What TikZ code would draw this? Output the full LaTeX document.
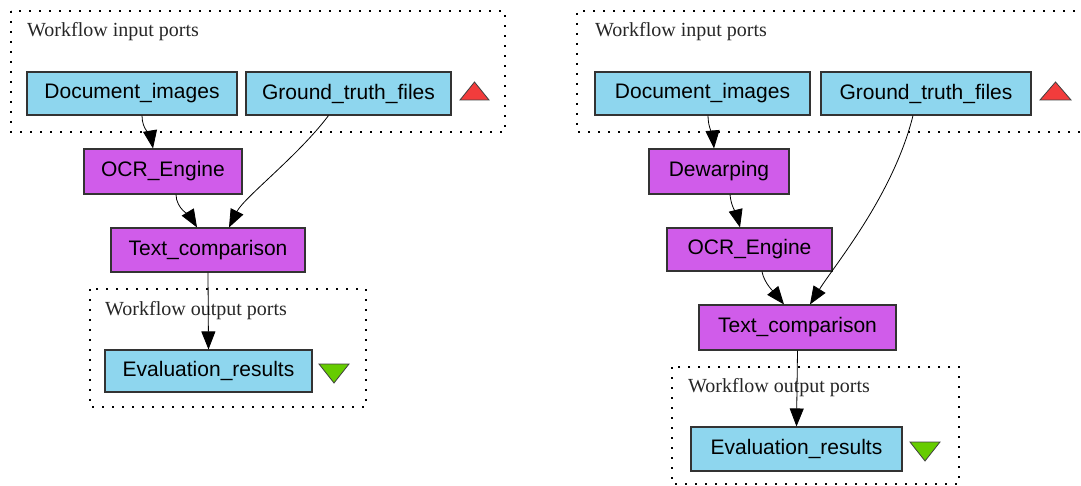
\documentclass[tikz,border=0pt]{standalone}
\usepackage{fontspec}
\setmainfont{Liberation Serif}
\newfontfamily\boxfont{Liberation Sans}
\usetikzlibrary{arrows.meta}
\definecolor{portBlue}{RGB}{142,214,238}
\definecolor{procPink}{RGB}{208,92,234}
\definecolor{inRed}{RGB}{242,60,60}
\definecolor{outGreen}{RGB}{102,204,0}
\tikzset{
  portbox/.style={draw=black!80, line width=1.1pt, fill=portBlue, inner sep=0pt,
    font=\boxfont\fontsize{21}{24}\selectfont},
  procbox/.style={draw=black!80, line width=1.1pt, fill=procPink, inner sep=0pt,
    font=\boxfont\fontsize{21}{24}\selectfont},
  cluster/.style={line width=1.2pt, dash pattern=on 1.6pt off 8.4pt},
  clusterlabel/.style={anchor=west, inner sep=0pt, text=black!85,
    font=\fontsize{20}{22}\selectfont},
  flow/.style={-{Triangle[length=18pt,width=14pt]}, line width=0.8pt}
}
\begin{document}
\begin{tikzpicture}[x=1pt, y=-1pt]
  \useasboundingbox (0,0) rectangle (1081,486);
  % Left workflow
  \draw[cluster] (11,11) rectangle (505,132);
  \node[clusterlabel] (inlab1) at (27,32) {Workflow input ports};
  \node[portbox, minimum width=210pt, minimum height=43pt] (doc1) at (132,93.5) {Document\_images};
  \node[portbox, minimum width=205pt, minimum height=43pt] (gt1) at (348.5,93.5) {Ground\_truth\_files};
  \draw[fill=inRed, draw=black!75, line width=0.8pt] (460,100) -- (489,100) -- (474.5,82) -- cycle;
  \node[procbox, minimum width=158pt, minimum height=45pt] (ocr1) at (163,171.5) {OCR\_Engine};
  \node[procbox, minimum width=194pt, minimum height=44pt] (cmp1) at (208,250) {Text\_comparison};
  \draw[cluster] (90,289) rectangle (366,407);
  \node[clusterlabel] (outlab1) at (105,311) {Workflow output ports};
  \node[portbox, minimum width=207pt, minimum height=42pt] (eval1) at (208.5,371) {Evaluation\_results};
  \draw[fill=outGreen, draw=black!75, line width=0.8pt] (319,364) -- (349,364) -- (334,383) -- cycle;
  \draw[flow] ([xshift=10pt]doc1.south) .. controls +(0,14) and +(-2,-12) .. ([xshift=-10pt]ocr1.north);
  \draw[flow] ([xshift=13pt]ocr1.south) .. controls +(0,14) and +(-6,-10) .. ([xshift=-11pt]cmp1.north);
  \draw[flow] ([xshift=-20pt]gt1.south) .. controls +(-30,40) and +(15,-30) .. ([xshift=21pt]cmp1.north);
  \draw[flow] (cmp1.south) -- (eval1.north);
  % Right workflow
  \draw[cluster] (1085,11) -- (577,11) -- (577,132) -- (1085,132);
  \node[clusterlabel] (inlab2) at (595,32) {Workflow input ports};
  \node[portbox, minimum width=215pt, minimum height=43pt] (doc2) at (702.5,93.5) {Document\_images};
  \node[portbox, minimum width=210pt, minimum height=43pt] (gt2) at (926,93.5) {Ground\_truth\_files};
  \draw[fill=inRed, draw=black!75, line width=0.8pt] (1040,100) -- (1071,100) -- (1055.5,82) -- cycle;
  \node[procbox, minimum width=140pt, minimum height=45pt] (dew2) at (719,171.5) {Dewarping};
  \node[procbox, minimum width=165pt, minimum height=43pt] (ocr2) at (749.5,249.5) {OCR\_Engine};
  \node[procbox, minimum width=197pt, minimum height=45pt] (cmp2) at (797.5,327.5) {Text\_comparison};
  \draw[cluster] (672,367) rectangle (959,484);
  \node[clusterlabel] (outlab2) at (688,388) {Workflow output ports};
  \node[portbox, minimum width=211pt, minimum height=44pt] (eval2) at (796.5,449) {Evaluation\_results};
  \draw[fill=outGreen, draw=black!75, line width=0.8pt] (910,442) -- (940,442) -- (925,461) -- cycle;
  \draw[flow] ([xshift=5.5pt]doc2.south) .. controls +(0,12) and +(-1,-12) .. ([xshift=-5pt]dew2.north);
  \draw[flow] ([xshift=11pt]dew2.south) .. controls +(1,12) and +(-3,-12) .. ([xshift=-9.5pt]ocr2.north);
  \draw[flow] ([xshift=12.5pt]ocr2.south) .. controls +(2,12) and +(-8,-10) .. ([xshift=-13.5pt]cmp2.north);
  \draw[flow] ([xshift=-13pt]gt2.south) .. controls +(-20,80) and +(25,-40) .. ([xshift=12.5pt]cmp2.north);
  \draw[flow] (cmp2.south) -- (eval2.north);
\end{tikzpicture}
\end{document}
